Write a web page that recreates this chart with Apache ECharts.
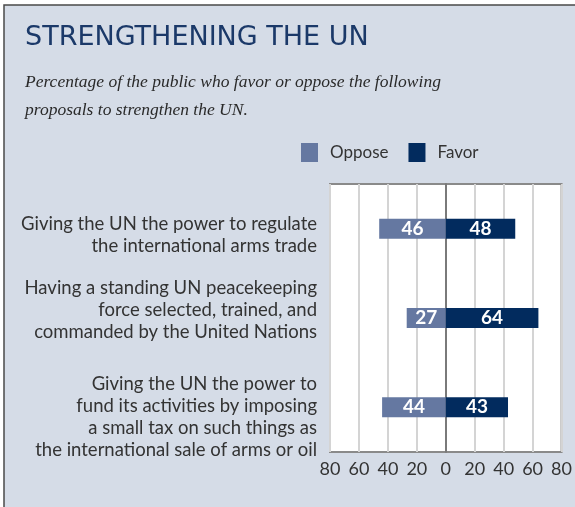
<!DOCTYPE html>
<html lang="en">
<head>
    <meta charset="UTF-8">
    <title>Strengthening the UN</title>
    <script src="https://cdn.jsdelivr.net/npm/echarts@6/dist/echarts.min.js"></script>
    <style>
        html, body { margin: 0; padding: 0; background: #fff; }
        #chart { width: 575px; height: 507px; }
    </style>
</head>
<body>
<div id="chart"></div>
<script type="text/javascript">
    // data
    var categories = [
        'Giving the UN the power to regulate\nthe international arms trade',
        'Having a standing UN peacekeeping\nforce selected, trained, and\ncommanded by the United Nations',
        'Giving the UN the power to\nfund its activities by imposing\na small tax on such things as\nthe international sale of arms or oil'
    ];
    var oppose = [46, 27, 44];
    var favor = [48, 64, 43];

    // labels are not centred on the bars in the original:
    // a blank spacer line above (+) or below (-) pushes them a bit
    var labelShift = [13, -16, 20];

    var colors = ['#6578a1', '#022b5e'];
    var font = 'Lato, "Open Sans", sans-serif';

    var myChart = echarts.init(document.getElementById('chart'));

    var option = {
        color: colors,
        animation: false,
        graphic: [
            {
                type: 'rect',
                z: -10,
                shape: { x: 4, y: 5, width: 580, height: 520 },
                style: { fill: '#d5dce7', stroke: '#4a4a4a', lineWidth: 1.5 }
            }
        ],
        title: {
            text: 'STRENGTHENING THE UN',
            subtext: 'Percentage of the public who favor or oppose the following\nproposals to strengthen the UN.',
            left: 20,
            top: 19,
            itemGap: 17,
            textStyle: {
                fontFamily: '"DejaVu Sans", sans-serif',
                fontWeight: 'normal',
                fontSize: 27,
                color: '#1b3969'
            },
            subtextStyle: {
                fontFamily: '"Liberation Serif", serif',
                fontStyle: 'italic',
                fontSize: 17.5,
                lineHeight: 28,
                color: '#2a2a2a'
            }
        },
        legend: {
            data: ['Oppose', 'Favor'],
            left: 296,
            top: 138,
            itemWidth: 17,
            itemHeight: 19,
            itemGap: 20,
            icon: 'rect',
            textStyle: { fontFamily: font, fontSize: 17, color: '#333', padding: [0, 0, 0, 7] }
        },
        grid: {
            show: true,
            left: 330,
            right: 13,
            top: 184,
            bottom: 55,
            backgroundColor: '#fff',
            borderColor: '#8a8a8a',
            borderWidth: 2
        },
        xAxis: {
            type: 'value',
            min: -80,
            max: 80,
            interval: 20,
            axisLine: { show: false },
            axisTick: { show: false },
            axisLabel: {
                fontFamily: font,
                fontSize: 18,
                color: '#333',
                margin: 8,
                formatter: function (v) { return Math.abs(v); }
            },
            splitLine: { lineStyle: { color: '#d4d4d4', width: 2 } }
        },
        yAxis: {
            type: 'category',
            inverse: true,
            data: categories,
            axisTick: { show: false },
            axisLine: { onZero: true, lineStyle: { color: '#7a7a7a', width: 2 } },
            axisLabel: {
                interval: 0,
                color: '#333',
                margin: 13,
                align: 'right',
                formatter: function (v, i) {
                    var lines = v.split('\n').map(function (s) { return '{t|' + s + '}'; });
                    var s = labelShift[i];
                    if (s > 0) lines.unshift('{sp' + i + '| }');
                    if (s < 0) lines.push('{sp' + i + '| }');
                    return lines.join('\n');
                },
                rich: {
                    t: { fontFamily: font, fontSize: 18.5, lineHeight: 22, color: '#333', align: 'right' },
                    sp0: { fontSize: 1, lineHeight: Math.abs(labelShift[0]) },
                    sp1: { fontSize: 1, lineHeight: Math.abs(labelShift[1]) },
                    sp2: { fontSize: 1, lineHeight: Math.abs(labelShift[2]) }
                }
            }
        },
        series: [
            {
                name: 'Oppose',
                type: 'bar',
                stack: 'total',
                barWidth: 20,
                data: oppose.map(function (v) { return -v; }),
                label: {
                    show: true,
                    position: 'inside',
                    fontFamily: font,
                    fontWeight: 'bold',
                    fontSize: 19,
                    color: '#fff',
                    formatter: function (p) { return Math.abs(p.value); }
                }
            },
            {
                name: 'Favor',
                type: 'bar',
                stack: 'total',
                barWidth: 20,
                data: favor,
                label: {
                    show: true,
                    position: 'inside',
                    fontFamily: font,
                    fontWeight: 'bold',
                    fontSize: 19,
                    color: '#fff'
                }
            }
        ]
    };
    myChart.setOption(option);
</script>
</body>
</html>
